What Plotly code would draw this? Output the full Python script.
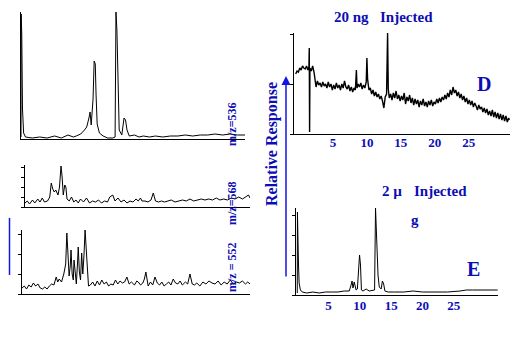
import plotly.graph_objects as go

W, H = 519, 342

# ---------------- data (retention time in minutes, response in relative units) -------------
a_time = [0.0, 0.02, 0.1, 0.2, 0.35, 0.6, 1.5, 2.5, 3.5, 4.5, 5.4, 6.3, 7.0, 7.4, 8.0, 8.5, 8.8,
          9.1, 9.25, 9.4, 9.65, 9.8, 9.95, 10.05, 10.2, 10.5, 11.0, 11.6, 12.3, 12.6, 12.72, 12.85,
          13.0, 13.15, 13.5, 13.8, 14.0, 14.2, 14.5, 15.2, 15.8, 16.4, 17.2, 18.0, 19.0, 20.0,
          21.0, 22.0, 23.0, 24.0, 25.0, 26.0, 27.0, 28.0, 29.0, 30.0]
a_resp = [2, 125, 105, 30, 6, 2, 1, 2, 1, 3, 1, 4, 2, 3, 5, 9, 12,
          21, 27, 14, 40, 78, 75, 45, 15, 6, 3, 1, 1, 2, 127, 108,
          40, 9, 4, 21, 19, 9, 3, 4, 2, 3, 2, 3, 2, 3,
          3, 4, 3, 4, 4, 5, 4, 5, 4, 4]

b_time = [0.0, 0.3, 0.6, 1.0, 1.3, 1.7, 2.0, 2.3, 2.6, 3.0, 3.3, 3.5, 3.7, 3.9, 4.1, 4.4, 4.6,
          4.8, 4.95, 5.1, 5.3, 5.45, 5.6, 5.9, 6.2, 6.5, 6.8, 7.1, 7.4, 7.8, 8.2, 8.6, 9.0, 9.4,
          9.8, 10.2, 10.6, 11.0, 11.3, 11.7, 12.0, 12.4, 12.8, 13.2, 13.6, 14.0, 14.4, 14.8,
          15.1, 15.4, 15.6, 16.0, 16.4, 16.8, 17.1, 17.4, 17.8, 18.2, 18.6, 19.0, 19.5, 20.0,
          20.5, 21.0, 21.5, 22.0, 22.5, 23.0, 23.5, 24.0, 24.5, 25.0, 25.5, 26.0, 26.5, 27.0,
          27.5, 28.0, 28.5, 29.0, 29.5, 29.8, 30.0]
b_resp = [4, 6, 3, 7, 4, 8, 5, 9, 5, 6, 10, 24, 18, 15, 17, 12, 20,
          41, 30, 12, 22, 20, 8, 6, 10, 5, 7, 4, 8, 5, 9, 4, 6, 5,
          7, 4, 6, 5, 10, 12, 6, 9, 5, 7, 4, 6, 5, 8,
          6, 9, 6, 6, 5, 7, 14, 6, 5, 6, 5, 6, 7, 5,
          6, 7, 6, 8, 6, 7, 8, 7, 8, 7, 9, 7, 8, 7,
          9, 8, 10, 8, 10, 12, 9]

c_time = [0.0, 0.3, 0.6, 0.9, 1.2, 1.5, 1.8, 2.1, 2.4, 2.7, 3.0, 3.3, 3.6, 3.9, 4.2, 4.5, 4.7,
          4.9, 5.2, 5.5, 5.75, 5.9, 6.05, 6.2, 6.35, 6.45, 6.6, 6.75, 6.85, 7.0, 7.15, 7.3, 7.4,
          7.55, 7.7, 7.85, 8.0, 8.15, 8.3, 8.45, 8.6, 8.75, 9.0, 9.3, 9.6, 9.9, 10.2, 10.5, 10.8,
          11.1, 11.4, 11.7, 12.0, 12.3, 12.6, 12.9, 13.2, 13.5, 13.8, 14.1, 14.4, 14.8, 15.1,
          15.3, 15.6, 15.9, 16.1, 16.3, 16.6, 16.9, 17.2, 17.5, 17.8, 18.1, 18.4, 18.7, 19.0,
          19.3, 19.6, 19.9, 20.2, 20.5, 20.8, 21.1, 21.5, 21.8, 22.1, 22.4, 22.7, 23.0, 23.4,
          23.8, 24.2, 24.6, 25.0, 25.4, 25.8, 26.2, 26.6, 27.0, 27.4, 27.8, 28.2, 28.6, 29.0,
          29.4, 29.7, 30.0]
c_resp = [6, 8, 5, 9, 7, 11, 8, 10, 6, 5, 7, 5, 8, 10, 9, 17, 12,
          15, 12, 20, 30, 61, 40, 18, 28, 44, 20, 14, 34, 18, 10, 30, 47,
          22, 14, 41, 20, 38, 64, 45, 20, 8, 9, 12, 8, 13, 9, 14, 10,
          12, 8, 10, 9, 14, 10, 13, 11, 12, 17, 10, 12, 9, 13,
          12, 9, 11, 15, 22, 8, 12, 9, 17, 11, 9, 12, 8, 10,
          12, 9, 15, 11, 10, 13, 9, 12, 10, 20, 10, 9, 11, 8,
          12, 10, 13, 11, 10, 13, 9, 12, 10, 14, 10, 12, 11, 13,
          10, 12, 10]

d_time = [-0.5, -0.3, -0.1, 0.1, 0.3, 0.5, 0.7, 0.9, 1.1, 1.3, 1.45, 1.5, 1.55, 1.6, 1.8, 2.0,
          2.2, 2.35, 2.5, 2.7, 2.9, 3.1, 3.3, 3.5, 3.7, 3.9, 4.1, 4.3, 4.5, 4.7, 4.9, 5.1, 5.3,
          5.5, 5.7, 5.9, 6.1, 6.3, 6.5, 6.7, 6.9, 7.1, 7.3, 7.5, 7.7, 7.9, 8.1, 8.3, 8.45, 8.55,
          8.7, 8.9, 9.1, 9.3, 9.5, 9.7, 9.9, 10.0, 10.1, 10.3, 10.5, 10.7, 10.9, 11.1, 11.3,
          11.5, 11.7, 11.9, 12.1, 12.3, 12.5, 12.7, 12.9, 13.05, 13.15, 13.3, 13.5, 13.7, 13.9,
          14.1, 14.3, 14.5, 14.7, 14.9, 15.1, 15.3, 15.5, 15.7, 15.9, 16.1, 16.3, 16.5, 16.7,
          16.9, 17.1, 17.3, 17.5, 17.7, 17.9, 18.1, 18.3, 18.5, 18.7, 18.9, 19.1, 19.3, 19.5,
          19.7, 19.9, 20.1, 20.3, 20.5, 20.7, 20.9, 21.1, 21.3, 21.5, 21.7, 21.9, 22.1, 22.3,
          22.5, 22.7, 22.9, 23.1, 23.3, 23.5, 23.7, 23.9, 24.1, 24.3, 24.5, 24.7, 24.9, 25.1,
          25.3, 25.5, 25.7, 25.9, 26.1, 26.3, 26.5, 26.7, 26.9, 27.1, 27.3, 27.5, 27.7, 27.9,
          28.1, 28.3, 28.5, 28.7, 28.9, 29.1, 29.3, 29.5, 29.7, 29.9, 30.1, 30.3, 30.5, 30.7,
          30.9, 31.0]
d_resp = [60, 63, 62, 66, 64, 68, 66, 65, 68, 64, 67, 86, 2, 66, 63, 68,
          62, 52, 47, 53, 49, 51, 47, 52, 48, 50, 46, 52, 47, 50, 44, 49, 45,
          51, 46, 49, 44, 50, 46, 53, 47, 45, 49, 43, 47, 42, 46, 44, 64, 46,
          50, 47, 51, 45, 49, 46, 52, 76, 55, 44, 46, 40, 44, 38, 42,
          37, 40, 35, 38, 33, 26, 37, 40, 101, 45, 36, 40, 34, 41,
          36, 43, 35, 39, 33, 38, 34, 41, 30, 37, 33, 39, 31, 36,
          29, 35, 30, 34, 27, 33, 29, 35, 28, 32, 27, 33, 29, 34,
          28, 32, 30, 35, 31, 36, 32, 37, 34, 39, 35, 41, 37, 44,
          39, 47, 41, 44, 38, 42, 36, 40, 34, 38, 32, 36, 30, 34,
          29, 33, 27, 31, 28, 24, 29, 25, 27, 22, 26, 21, 25, 19,
          23, 18, 24, 17, 22, 16, 21, 15, 20, 14, 19, 13, 18, 12,
          16, 14]

e_time = [0.0, 0.03, 0.1, 0.2, 0.3, 0.5, 0.8, 1.5, 2.5, 3.5, 4.5, 5.5, 6.5, 7.5, 8.3, 8.6, 8.75,
          8.9, 9.1, 9.25, 9.4, 9.6, 9.85, 9.95, 10.1, 10.25, 10.5, 11.0, 11.5, 12.0, 12.35, 12.5,
          12.6, 12.75, 12.9, 13.1, 13.4, 13.6, 13.8, 14.0, 14.5, 15.5, 17.0, 18.5, 20.0, 22.0,
          24.0, 26.0, 27.0, 28.0, 30.0, 32.0]
e_resp = [2, 83, 60, 30, 12, 5, 3, 2, 3, 2, 3, 3, 3, 4, 4, 10, 14,
          7, 13, 9, 5, 6, 38, 40, 30, 5, 4, 6, 4, 5, 5, 87,
          70, 55, 20, 8, 6, 14, 11, 4, 3, 3, 3, 4, 3, 3,
          3, 4, 5, 5, 5, 5]

tick_vals = [5, 10, 15, 20, 25]
tick_text = ["5", "10", "15", "20", "25"]

TXT = "#0d0db4"
LINE_BLUE = "#1414e6"
SERIF = "Liberation Serif"


def px_x(p):
    return p / W


def px_y(p):
    return 1 - p / H


fig = go.Figure()

panels = [
    # name, time, resp, x px domain, y px domain (top, bottom), xrange, yrange, ticklabels, lw, standoff
    ("A", a_time, a_resp, (21, 245), (12, 139), [0, 30], [0, 127], False, 1.0, 0),
    ("B", b_time, b_resp, (25, 250), (165, 207), [0, 30], [0, 42], False, 1.0, 0),
    ("C", c_time, c_resp, (22, 250), (230, 294), [0, 30], [0, 64], False, 1.0, 0),
    ("D", d_time, d_resp, (294, 510), (33, 134), [-0.75, 31.1], [0, 101], True, 1.4, -4),
    ("E", e_time, e_resp, (296, 498), (208, 295), [-0.2, 32.06], [0, 87], True, 1.0, -2),
]

for i, (name, t, r, xd, yd, xr, yr, labels, lw, so) in enumerate(panels, start=1):
    sx = "" if i == 1 else str(i)
    fig.add_trace(go.Scatter(x=t, y=r, mode="lines", line=dict(color="black", width=lw),
                             xaxis="x" + sx, yaxis="y" + sx, showlegend=False, hoverinfo="skip"))
    xa = dict(domain=[px_x(xd[0]), px_x(xd[1])], range=xr, anchor="y" + sx,
              showline=True, linecolor="black", linewidth=1, showgrid=False, zeroline=False,
              ticks="", showticklabels=labels)
    if labels:
        xa.update(tickmode="array", tickvals=tick_vals, ticktext=tick_text,
                  ticklabelstandoff=so,
                  tickfont=dict(family=SERIF, size=13, color=TXT, weight="bold"))
    ya = dict(domain=[px_y(yd[1]), px_y(yd[0])], range=yr, anchor="x" + sx,
              showline=True, linecolor="black", linewidth=1, showgrid=False, zeroline=False,
              showticklabels=False, ticks="outside" if name != "A" else "", ticklen=3,
              tickcolor="black", nticks=5)
    fig.layout["xaxis" + sx] = xa
    fig.layout["yaxis" + sx] = ya

annotations = []


def note(text, x, y, size, angle=0):
    annotations.append(dict(text=text, x=px_x(x), y=px_y(y), xref="paper", yref="paper",
                            showarrow=False, textangle=angle, xanchor="center", yanchor="middle",
                            font=dict(family=SERIF, size=size, color=TXT)))


note("<b>m/z=536</b>", 232, 124, 12, -90)
note("<b>m/z=568</b>", 232, 203, 12, -90)
note("<b>m/z = 552</b>", 232, 267, 12, -90)
note("<b>20 ng</b>", 351, 17, 15)
note("<b>Injected</b>", 406, 17, 15)
note("<b>2 µ</b>", 392, 191, 15)
note("<b>Injected</b>", 440, 191, 15)
note("<b>g</b>", 415, 220, 15)
note("<b>D</b>", 484, 84, 20)
note("<b>E</b>", 473, 269, 20)
note("<b>Relative Response</b>", 272, 144, 16, -90)

# blue arrow (head at top, tail 202 px below)
annotations.append(dict(x=px_x(286), y=px_y(76), ax=0, ay=202,
                        xref="paper", yref="paper", axref="pixel", ayref="pixel",
                        showarrow=True, arrowhead=2, arrowsize=1.2, arrowwidth=1.5,
                        arrowcolor=LINE_BLUE, text=""))

fig.update_layout(
    width=W, height=H, autosize=False,
    margin=dict(l=0, r=0, t=0, b=0),
    paper_bgcolor="white", plot_bgcolor="white",
    annotations=annotations,
    shapes=[dict(type="line", xref="paper", yref="paper", x0=px_x(9.5), x1=px_x(9.5),
                 y0=px_y(218), y1=px_y(275), line=dict(color=LINE_BLUE, width=1.5))],
)

fig.write_html("out.html")
